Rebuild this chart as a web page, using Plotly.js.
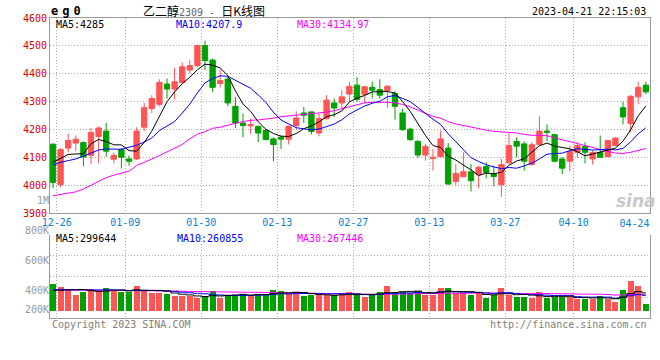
<!DOCTYPE html>
<html><head><meta charset="utf-8">
<script src="https://cdn.plot.ly/plotly-3.0.1.min.js"></script>
<style>html,body{margin:0;padding:0;background:#fff}#chart{width:660px;height:360px}</style>
</head><body><div id="chart"></div>
<script>
const days = ['12-26','12-27','12-28','12-29','12-30',
'01-03','01-04','01-05','01-06',
'01-09','01-10','01-11','01-12','01-13',
'01-16','01-17','01-18','01-19','01-20',
'01-30','01-31','02-01','02-02','02-03',
'02-06','02-07','02-08','02-09','02-10',
'02-13','02-14','02-15','02-16','02-17',
'02-20','02-21','02-22','02-23','02-24',
'02-27','02-28','03-01','03-02','03-03',
'03-06','03-07','03-08','03-09','03-10',
'03-13','03-14','03-15','03-16','03-17',
'03-20','03-21','03-22','03-23','03-24',
'03-27','03-28','03-29','03-30','03-31',
'04-03','04-04','04-06','04-07',
'04-10','04-11','04-12','04-13','04-14',
'04-17','04-18','04-19','04-20','04-21',
'04-24'];

const openP = [4147,4002,4133,4151,4153,4107,4175,4194,4093,4127,4094,4094,4208,4275,4290,4363,4345,4368,4413,4429,4501,4449,4365,4381,4283,4223,4213,4211,4196,4166,4172,4165,4214,4259,4263,4187,4239,4295,4295,4327,4359,4325,4351,4343,4339,4329,4259,4201,4157,4108,4096,4102,4133,4013,4030,4048,4037,4067,4040,4001,4080,4157,4148,4074,4146,4194,4181,4094,4086,4118,4139,4094,4117,4102,4142,4278,4221,4317,4359];
const highP = [4150,4133,4184,4178,4157,4205,4211,4223,4117,4134,4106,4208,4295,4323,4380,4383,4422,4440,4449,4505,4518,4455,4416,4389,4317,4257,4239,4214,4202,4172,4178,4214,4265,4281,4263,4257,4323,4311,4341,4371,4389,4355,4371,4380,4359,4337,4275,4206,4163,4148,4130,4196,4151,4076,4118,4076,4070,4082,4070,4094,4187,4172,4157,4154,4247,4218,4184,4100,4142,4154,4154,4124,4178,4162,4172,4299,4323,4371,4371];
const lowP = [3989,3992,4118,4122,4068,4076,4078,4102,4078,4060,4070,4090,4194,4259,4283,4311,4307,4365,4401,4425,4413,4335,4351,4283,4205,4172,4184,4154,4160,4086,4130,4146,4199,4223,4182,4175,4235,4245,4275,4299,4299,4293,4311,4311,4277,4235,4196,4158,4098,4088,4052,4100,4001,3998,4028,3977,3989,4024,3995,3958,4077,4100,4052,4070,4140,4158,4082,4040,4049,4098,4078,4074,4098,4100,4139,4218,4190,4290,4327];
const closeP = [4010,4128,4160,4165,4101,4189,4205,4122,4107,4100,4086,4194,4278,4311,4369,4345,4371,4425,4429,4501,4447,4351,4375,4295,4223,4214,4217,4187,4164,4146,4165,4211,4241,4251,4193,4239,4305,4277,4317,4355,4308,4353,4341,4323,4355,4283,4199,4164,4108,4139,4100,4166,4004,4042,4048,4016,4064,4046,4031,4074,4142,4140,4086,4145,4194,4190,4086,4061,4121,4142,4118,4117,4100,4160,4169,4245,4319,4351,4335];

const ma5 = [4082,4096,4110,4112,4112.8,4148.6,4164.0,4156.4,4144.8,4144.6,4124.0,4121.8,4153.0,4193.8,4247.6,4299.4,4334.8,4364.2,4387.8,4414.2,4434.6,4430.6,4420.6,4393.8,4338.2,4291.6,4264.8,4227.2,4201.0,4185.6,4175.8,4174.6,4185.4,4202.8,4212.2,4227.0,4245.8,4253.0,4266.2,4298.6,4312.4,4322.0,4334.8,4336.0,4336.0,4331.0,4300.2,4264.8,4221.8,4178.6,4142.0,4135.4,4103.4,4090.2,4072.0,4055.2,4034.8,4043.2,4041.0,4046.2,4071.4,4086.6,4094.6,4117.4,4141.4,4151.0,4140.2,4135.2,4130.4,4120.0,4105.6,4111.8,4119.6,4127.4,4132.8,4158.2,4198.6,4248.8,4283.8];
const ma10 = [4072,4082,4088,4094,4104,4116,4126,4130,4130,4128.7,4136.3,4142.9,4154.7,4169.3,4196.1,4211.7,4228.3,4258.6,4290.8,4330.9,4367.0,4382.7,4392.4,4390.8,4376.2,4363.1,4347.7,4323.9,4297.4,4261.9,4233.7,4219.7,4206.3,4201.9,4198.9,4201.4,4210.2,4219.2,4234.5,4255.4,4269.7,4283.9,4293.9,4301.1,4317.3,4321.7,4311.1,4299.8,4278.9,4257.3,4236.5,4217.8,4184.1,4156.0,4125.3,4098.6,4085.1,4073.3,4065.6,4059.1,4063.3,4060.7,4068.9,4079.2,4093.8,4111.2,4113.4,4114.9,4123.9,4130.7,4128.3,4126.0,4127.4,4128.9,4126.4,4131.9,4155.2,4184.2,4205.6];
const ma30 = [3962,3966,3971,3976,3986,4000,4014,4027,4036,4042,4050,4070,4083,4094,4106,4119,4133,4146,4166,4183,4192,4204,4208,4216,4222,4228,4233,4234,4236,4240.5,4245.7,4248.4,4251.1,4254.0,4257.1,4258.7,4262.1,4267.2,4274.2,4282.7,4290.1,4295.4,4297.5,4297.9,4297.5,4295.4,4289.7,4281.0,4270.3,4258.2,4246.6,4240.5,4228.1,4219.7,4213.8,4207.2,4202.1,4197.4,4193.0,4190.6,4189.8,4187.5,4182.3,4178.8,4178.8,4177.2,4169.9,4162.7,4156.1,4149.0,4142.7,4134.8,4126.8,4121.4,4115.2,4113.9,4117.9,4124.1,4131.7];

// volume in thousands of lots
const volumeK = [446,396,357,262,317,362,334,379,334,317,317,412,346,307,307,279,257,245,245,224,229,329,224,274,274,279,274,274,267,346,329,301,312,245,262,262,262,274,279,312,279,234,279,312,412,291,312,301,334,274,274,379,379,291,291,267,312,212,262,379,267,234,229,224,312,212,234,234,229,207,207,207,251,207,145,346,496,412,112];
const volMa5K = [340,345,350,352,356,339,326,331,345,345,336,352,345,340,338,330,299,279,267,250,240,254,250,256,266,276,265,275,274,288,298,303,311,307,290,276,269,261,268,278,281,276,277,283,303,306,321,326,330,302,299,312,328,319,323,321,308,275,269,286,286,271,274,267,253,242,242,243,244,223,222,217,220,216,203,231,289,321,299.6];
const volMa10K = [360,358,356,354,352,350,350,350,350,350,338,339,338,343,342,333,326,312,303,294,285,277,265,261,258,258,260,263,265,277,287,284,293,290,289,287,286,286,287,284,279,272,269,276,291,293,298,301,307,303,302,317,327,325,313,310,310,301,294,305,304,289,274,268,270,264,257,259,255,238,232,230,232,230,213,227,253,271,260.9];
const volMa30K = [350,350,349,348,347,346,345,344,343,342,341,340,338,336,334,332,330,328,326,324,322,320,318,316,314,312,311,310,308,307,303,300,299,298,296,293,290,287,285,285,284,278,275,276,279,280,281,283,286,288,289,291,296,297,297,297,298,296,296,297,295,293,290,289,291,289,288,287,285,282,279,279,278,274,265,267,273,277,267.4];

const dateTicks = ['12-26','01-09','01-30','02-13','02-27','03-13','03-27','04-10','04-24'];
const priceTicks = [3900,4000,4100,4200,4300,4400,4500,4600];
const volTickText = ['1M','800K','600K','400K','200K'];
const volTickPos = [1000,800,600,400,267];

const UP = '#ff5555', DOWN = '#00a000';
const MONO = 'DejaVu Sans Mono, Liberation Mono, monospace';
const xi = days.map((d, i) => i);
const tickX = dateTicks.map(d => days.indexOf(d) + 0.5);
const last = dateTicks.length - 1;
// the last date label sits flush against the right border: it is drawn on its own overlay axis, left of its tick
const tickTextMain = dateTicks.map((d, i) => i === last ? '' : d);
const volColors = closeP.map((c, i) => c >= openP[i] ? UP : DOWN);

const traces = [
  {type:'candlestick', x:xi, open:openP, high:highP, low:lowP, close:closeP, xaxis:'x', yaxis:'y',
   increasing:{line:{color:UP,width:1}, fillcolor:UP},
   decreasing:{line:{color:DOWN,width:1}, fillcolor:DOWN},
   whiskerwidth:0, hoverinfo:'skip', showlegend:false},
  {type:'scatter', mode:'lines', x:xi, y:ma30, line:{color:'#ff00ff',width:1}, xaxis:'x', yaxis:'y', hoverinfo:'skip'},
  {type:'scatter', mode:'lines', x:xi, y:ma10, line:{color:'#0000ff',width:1}, xaxis:'x', yaxis:'y', hoverinfo:'skip'},
  {type:'scatter', mode:'lines', x:xi, y:ma5, line:{color:'#000000',width:1}, xaxis:'x', yaxis:'y', hoverinfo:'skip'},
  {type:'bar', x:xi, y:volumeK, width:0.8, marker:{color:volColors, line:{width:0}}, xaxis:'x2', yaxis:'y2', hoverinfo:'skip'},
  {type:'scatter', mode:'lines', x:xi, y:volMa30K, line:{color:'#ff00ff',width:1,shape:'hvh'}, xaxis:'x2', yaxis:'y2', hoverinfo:'skip'},
  {type:'scatter', mode:'lines', x:xi, y:volMa10K, line:{color:'#0000ff',width:1,shape:'hvh'}, xaxis:'x2', yaxis:'y2', hoverinfo:'skip'},
  {type:'scatter', mode:'lines', x:xi, y:volMa5K, line:{color:'#000000',width:1,shape:'hvh'}, xaxis:'x2', yaxis:'y2', hoverinfo:'skip'},
  {type:'scatter', mode:'markers', x:[], y:[], xaxis:'x3', yaxis:'y3', hoverinfo:'skip'},
  {type:'scatter', mode:'markers', x:[], y:[], xaxis:'x4', yaxis:'y', hoverinfo:'skip'}
];

const W = 660, H = 360, ML = 50, MR = 10, MT = 18, MB = 42;
const pw = W - ML - MR, ph = H - MT - MB;
const px = p => (p - ML) / pw;
const py = p => (H - MB - p) / ph;
const xr = [-0.395, 78.55];
const GRID = '#aaaaaa', AXL = '#999999';
const DATEFONT = {family:MONO, size:10, color:'#0a7fd6'};

function ann(text, x, y, color, anchor, size, extra) {
  return Object.assign({text:text, xref:'paper', yref:'paper', x:px(x), y:py(y), xanchor:anchor||'left', yanchor:'middle',
    showarrow:false, font:{family:MONO, size:size||10, color:color||'#000'}}, extra||{});
}

const layout = {
  width:W, height:H, margin:{l:ML, r:MR, t:MT, b:MB}, paper_bgcolor:'#fff', plot_bgcolor:'rgba(0,0,0,0)',
  showlegend:false, hovermode:false, dragmode:false, boxgap:0.3, boxgroupgap:0, bargap:0,
  xaxis:{domain:[0,1], range:xr, anchor:'y', tickmode:'array', tickvals:tickX, ticktext:tickTextMain,
    showgrid:true, gridcolor:GRID, griddash:'1px,2px', gridwidth:1, zeroline:false,
    showline:true, linecolor:AXL, linewidth:1, mirror:true, ticks:'', rangeslider:{visible:false},
    showticklabels:true, tickfont:DATEFONT},
  xaxis4:{domain:[0,1], range:xr, anchor:'y', overlaying:'x', side:'bottom', tickmode:'array',
    tickvals:[tickX[last]], ticktext:[dateTicks[last]], ticklabelposition:'outside left', ticklabelstandoff:3,
    showgrid:false, zeroline:false, showline:false, ticks:'', tickfont:DATEFONT},
  yaxis:{domain:[py(213),1], range:[3900,4600], anchor:'x', tickmode:'array', tickvals:priceTicks,
    showgrid:true, gridcolor:GRID, griddash:'1px,2px', gridwidth:1, zeroline:false,
    showline:true, linecolor:AXL, linewidth:1, mirror:true, ticks:'',
    tickfont:{family:MONO, size:10, color:'#dd0000'}},
  xaxis2:{domain:[0,1], range:xr, anchor:'y2', tickmode:'array', tickvals:tickX, showticklabels:false,
    showgrid:true, gridcolor:GRID, griddash:'1px,2px', gridwidth:1, zeroline:false,
    showline:true, linecolor:AXL, linewidth:1, ticks:''},
  yaxis2:{domain:[0,py(235)], range:[-117,1264], anchor:'x2', tickmode:'linear', tick0:-117, dtick:345.25,
    showticklabels:false, showgrid:true, gridcolor:GRID, griddash:'1px,2px', gridwidth:1, zeroline:false,
    showline:true, linecolor:AXL, linewidth:1, mirror:true, ticks:''},
  xaxis3:{domain:[0,1], range:xr, anchor:'y3', visible:false, showgrid:false, zeroline:false},
  yaxis3:{domain:[0,py(195)], range:[213.33,1033.33], anchor:'x3', tickmode:'array', tickvals:volTickPos, ticktext:volTickText,
    showgrid:false, zeroline:false, showline:false, ticks:'', tickfont:{family:MONO, size:10, color:'#999999'}},
  annotations:[
    ann('<span style="letter-spacing:4px"><b>eg0</b></span>', 49, 11, '#000', 'left', 12),
    ann('<span style="font-family:Noto Sans CJK SC;font-size:12px">乙二醇</span><span style="color:#666">2309 - </span><span style="font-family:Noto Sans CJK SC;font-size:12px">日K线图</span>', 141, 11, '#000', 'left', 10),
    ann('2023-04-21 22:15:03', 648, 11.5, '#000', 'right', 10),
    ann('MA5:4285', 54, 24.5, '#000', 'left', 10),
    ann('MA10:4207.9', 174, 24.5, '#0000ff', 'left', 10),
    ann('MA30:4134.97', 295, 24.5, '#ff00ff', 'left', 10),
    ann('MA5:299644', 54, 238.5, '#000', 'left', 10),
    ann('MA10:260855', 175, 238.5, '#0000ff', 'left', 10),
    ann('MA30:267446', 295, 238.5, '#ff00ff', 'left', 10),
    ann('Copyright 2023 SINA.COM', 50, 324, '#808080', 'left', 10),
    ann('http://finance.sina.com.cn', 649, 324, '#808080', 'right', 10),
    ann('<b><i>sina</i></b>', 636, 201, '#c8c8c8', 'center', 17, {font:{family:'DejaVu Sans, sans-serif', size:17, color:'#c8c8c8'}})
  ]
};

Plotly.newPlot('chart', traces, layout, {displayModeBar:false, staticPlot:true});
</script>
</body></html>
